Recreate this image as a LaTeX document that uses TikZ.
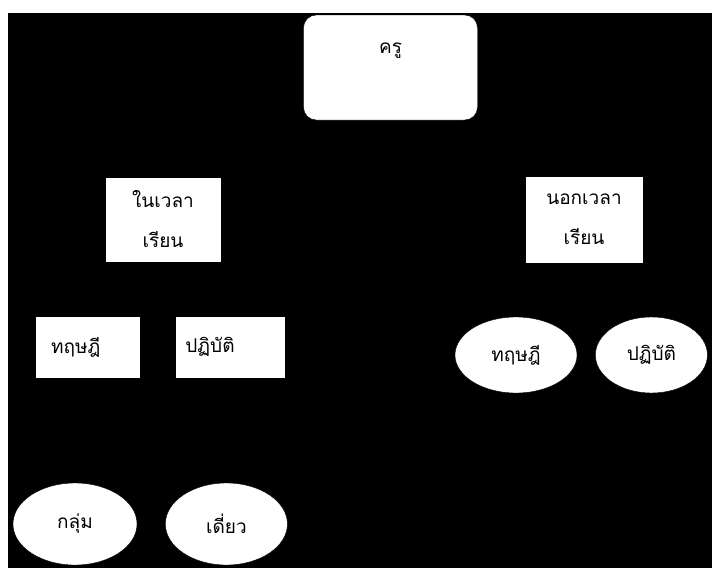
\documentclass[tikz,border=0pt]{standalone}
\usepackage{fontspec}
\newfontfamily\thaifont[Script=Thai]{Loma}
\usetikzlibrary{arrows.meta, shapes.geometric, positioning}

\begin{document}
\begin{tikzpicture}[x=1pt, y=-1pt]
\tikzstyle{topbox} = [shape=rectangle, rounded corners=4.5mm, draw=black, fill=white, inner xsep=0pt, inner ysep=0pt, minimum width=174pt, text height=38pt, text depth=67pt, font=\thaifont\fontsize{19}{22}\selectfont];
\tikzstyle{twoline} = [shape=rectangle, draw=black, fill=white, inner sep=0pt, align=center, font=\thaifont\fontsize{19}{40}\selectfont];
\tikzstyle{box} = [shape=rectangle, draw=black, fill=white, inner ysep=0pt, minimum height=62pt, align=left, font=\thaifont\fontsize{19}{22}\selectfont];
\tikzstyle{oval} = [shape=ellipse, draw=black, fill=white, inner sep=0pt, font=\thaifont\fontsize{19}{22}\selectfont];

% background
\useasboundingbox (0,0) rectangle (712,568);
\fill[white] (0,0) rectangle (712,568);
\fill[black] (8,13) rectangle (712,568);

\node[topbox](Teacher) at (390.5,67.5) {ครู};
\node[twoline, minimum width=116pt, minimum height=85pt](InClass) at (163,219.5) {ในเวลา\\เรียน};
\node[twoline, minimum width=118pt, minimum height=87pt](OutClass) at (584,219.5) {นอกเวลา\\เรียน};
\node[box, inner xsep=16pt, text width=73pt](InTheory) at (87.5,347) {ทฤษฎี};
\node[box, inner xsep=10pt, text width=90pt, right=35pt of InTheory](InPractice) {ปฏิบัติ};
\node[oval, minimum width=122pt, minimum height=76pt](OutTheory) at (516,355) {ทฤษฎี};
\node[oval, minimum width=112pt, minimum height=76pt, right=18pt of OutTheory](OutPractice) {ปฏิบัติ};
\node[oval, minimum width=124pt, minimum height=82pt](Group) at (75,524) {กลุ่ม};
\node[oval, minimum width=122pt, minimum height=82pt, right=28pt of Group](Single) {เดี่ยว};

\draw[black, thin]
    (Teacher) edge node[]{} (InClass)
    (Teacher) edge node[]{} (OutClass)
    (InClass) edge node[]{} (InTheory)
    (InClass) edge node[]{} (InPractice)
    (OutClass) edge node[]{} (OutTheory)
    (OutClass) edge node[]{} (OutPractice)
    (InPractice) edge node[]{} (Group)
    (InPractice) edge node[]{} (Single)
;
\end{tikzpicture}
\end{document}
